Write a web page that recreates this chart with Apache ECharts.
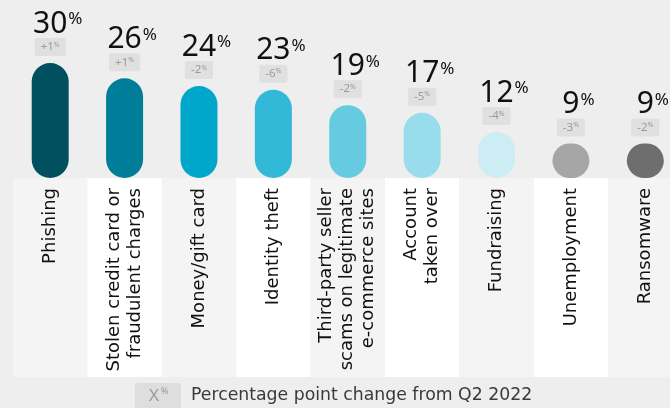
<!DOCTYPE html>
<html>
<head>
<meta charset="utf-8">
<script src="https://cdn.jsdelivr.net/npm/echarts@6/dist/echarts.min.js"></script>
<style>
  html, body { margin: 0; padding: 0; background: #eeeeee; }
  #chart { width: 670px; height: 408px; }
</style>
</head>
<body>
<div id="chart"></div>
<script>
// Fraud types reported, share of respondents (%)
const categories = [
  'Phishing',
  'Stolen credit card or\nfraudulent charges',
  'Money/gift card',
  'Identity theft',
  'Third-party seller\nscams on legitimate\ne-commerce sites',
  'Account\ntaken over',
  'Fundraising',
  'Unemployment',
  'Ransomware'
];
const shares = [30, 26, 24, 23, 19, 17, 12, 9, 9];
// Percentage point change from Q2 2022
const changes = ['+1', '+1', '-2', '-6', '-2', '-5', '-4', '-3', '-2'];
const barColors = ['#00505f', '#007e99', '#00a7cb', '#33b9d8', '#66cbe1', '#99dcec', '#cdedf5', '#a6a6a6', '#6e6e6e'];

const FONT = '"Noto Sans", Lato, sans-serif';
const LABEL_FONT = '"DejaVu Sans", "Noto Sans", sans-serif';

const chart = echarts.init(document.getElementById('chart'), null, { renderer: 'canvas' });

// the last column runs past the right edge of the canvas
chart.setOption({
  backgroundColor: '#eeeeee',
  animation: false,
  textStyle: { fontFamily: FONT },
  grid: [
    { left: 13, width: 669.5, top: 24.667, height: 153.333, outerBoundsMode: 'none' },
    { left: 13, width: 669.5, top: 178, height: 199, outerBoundsMode: 'none' }
  ],
  xAxis: [
    {
      type: 'category', data: categories, gridIndex: 0, z: 3,
      axisLine: { show: false }, axisTick: { show: false },
      axisLabel: {
        rotate: 90, margin: 10, interval: 0,
        fontSize: 18, lineHeight: 21, color: '#111111', fontFamily: LABEL_FONT
      }
    },
    {
      type: 'category', data: categories, gridIndex: 1, z: 0,
      axisLine: { show: false }, axisTick: { show: false, interval: 0 },
      axisLabel: { show: false, interval: 0 },
      splitArea: { show: true, interval: 0, areaStyle: { color: ['#f4f4f4', '#ffffff'] } }
    }
  ],
  yAxis: [
    { type: 'value', gridIndex: 0, min: 0, max: 40, show: false },
    { type: 'value', gridIndex: 1, min: 0, max: 1, show: false }
  ],
  series: [
    {
      type: 'bar',
      xAxisIndex: 0, yAxisIndex: 0,
      barWidth: 37,
      data: shares.map((v, i) => ({ value: v, itemStyle: { color: barColors[i] } })),
      itemStyle: { borderRadius: 18.5 },
      label: {
        show: true,
        position: 'top',
        distance: 26,
        formatter: p => '{pad|}{n|' + p.value + '}{p|%}',
        rich: {
          pad: { width: 16 },
          n: { fontSize: 30, lineHeight: 26, color: '#111111', fontFamily: FONT },
          p: { fontSize: 17, lineHeight: 14, verticalAlign: 'top', color: '#111111', fontFamily: FONT, width: 16 }
        }
      }
    },
    {
      type: 'scatter',
      xAxisIndex: 0, yAxisIndex: 0,
      symbolSize: 0,
      data: shares,
      label: {
        show: true,
        position: 'top',
        distance: 7,
        backgroundColor: '#dcdcdc',
        borderRadius: 2,
        padding: [3, 6, 3, 6],
        formatter: p => '{c|' + changes[p.dataIndex] + '}{s|%}',
        rich: {
          c: { fontSize: 11.5, lineHeight: 12, color: '#8a8a8a', fontFamily: FONT },
          s: { fontSize: 7, lineHeight: 8, verticalAlign: 'top', color: '#8a8a8a', fontFamily: FONT }
        }
      }
    }
  ],
  graphic: [
    {
      type: 'rect', left: 135, top: 383,
      shape: { width: 46, height: 30, r: 3 },
      style: { fill: '#dedede' }
    },
    {
      type: 'text', left: 149, top: 388,
      style: { text: 'X', fontSize: 17, fill: '#9a9a9a', fontFamily: FONT }
    },
    {
      type: 'text', left: 161, top: 387,
      style: { text: '%', fontSize: 9, fill: '#9a9a9a', fontFamily: FONT }
    },
    {
      type: 'text', left: 191, top: 387,
      style: { text: 'Percentage point change from Q2 2022', fontSize: 17.3, fill: '#3a3a3a', fontFamily: LABEL_FONT }
    }
  ]
});
</script>
</body>
</html>
